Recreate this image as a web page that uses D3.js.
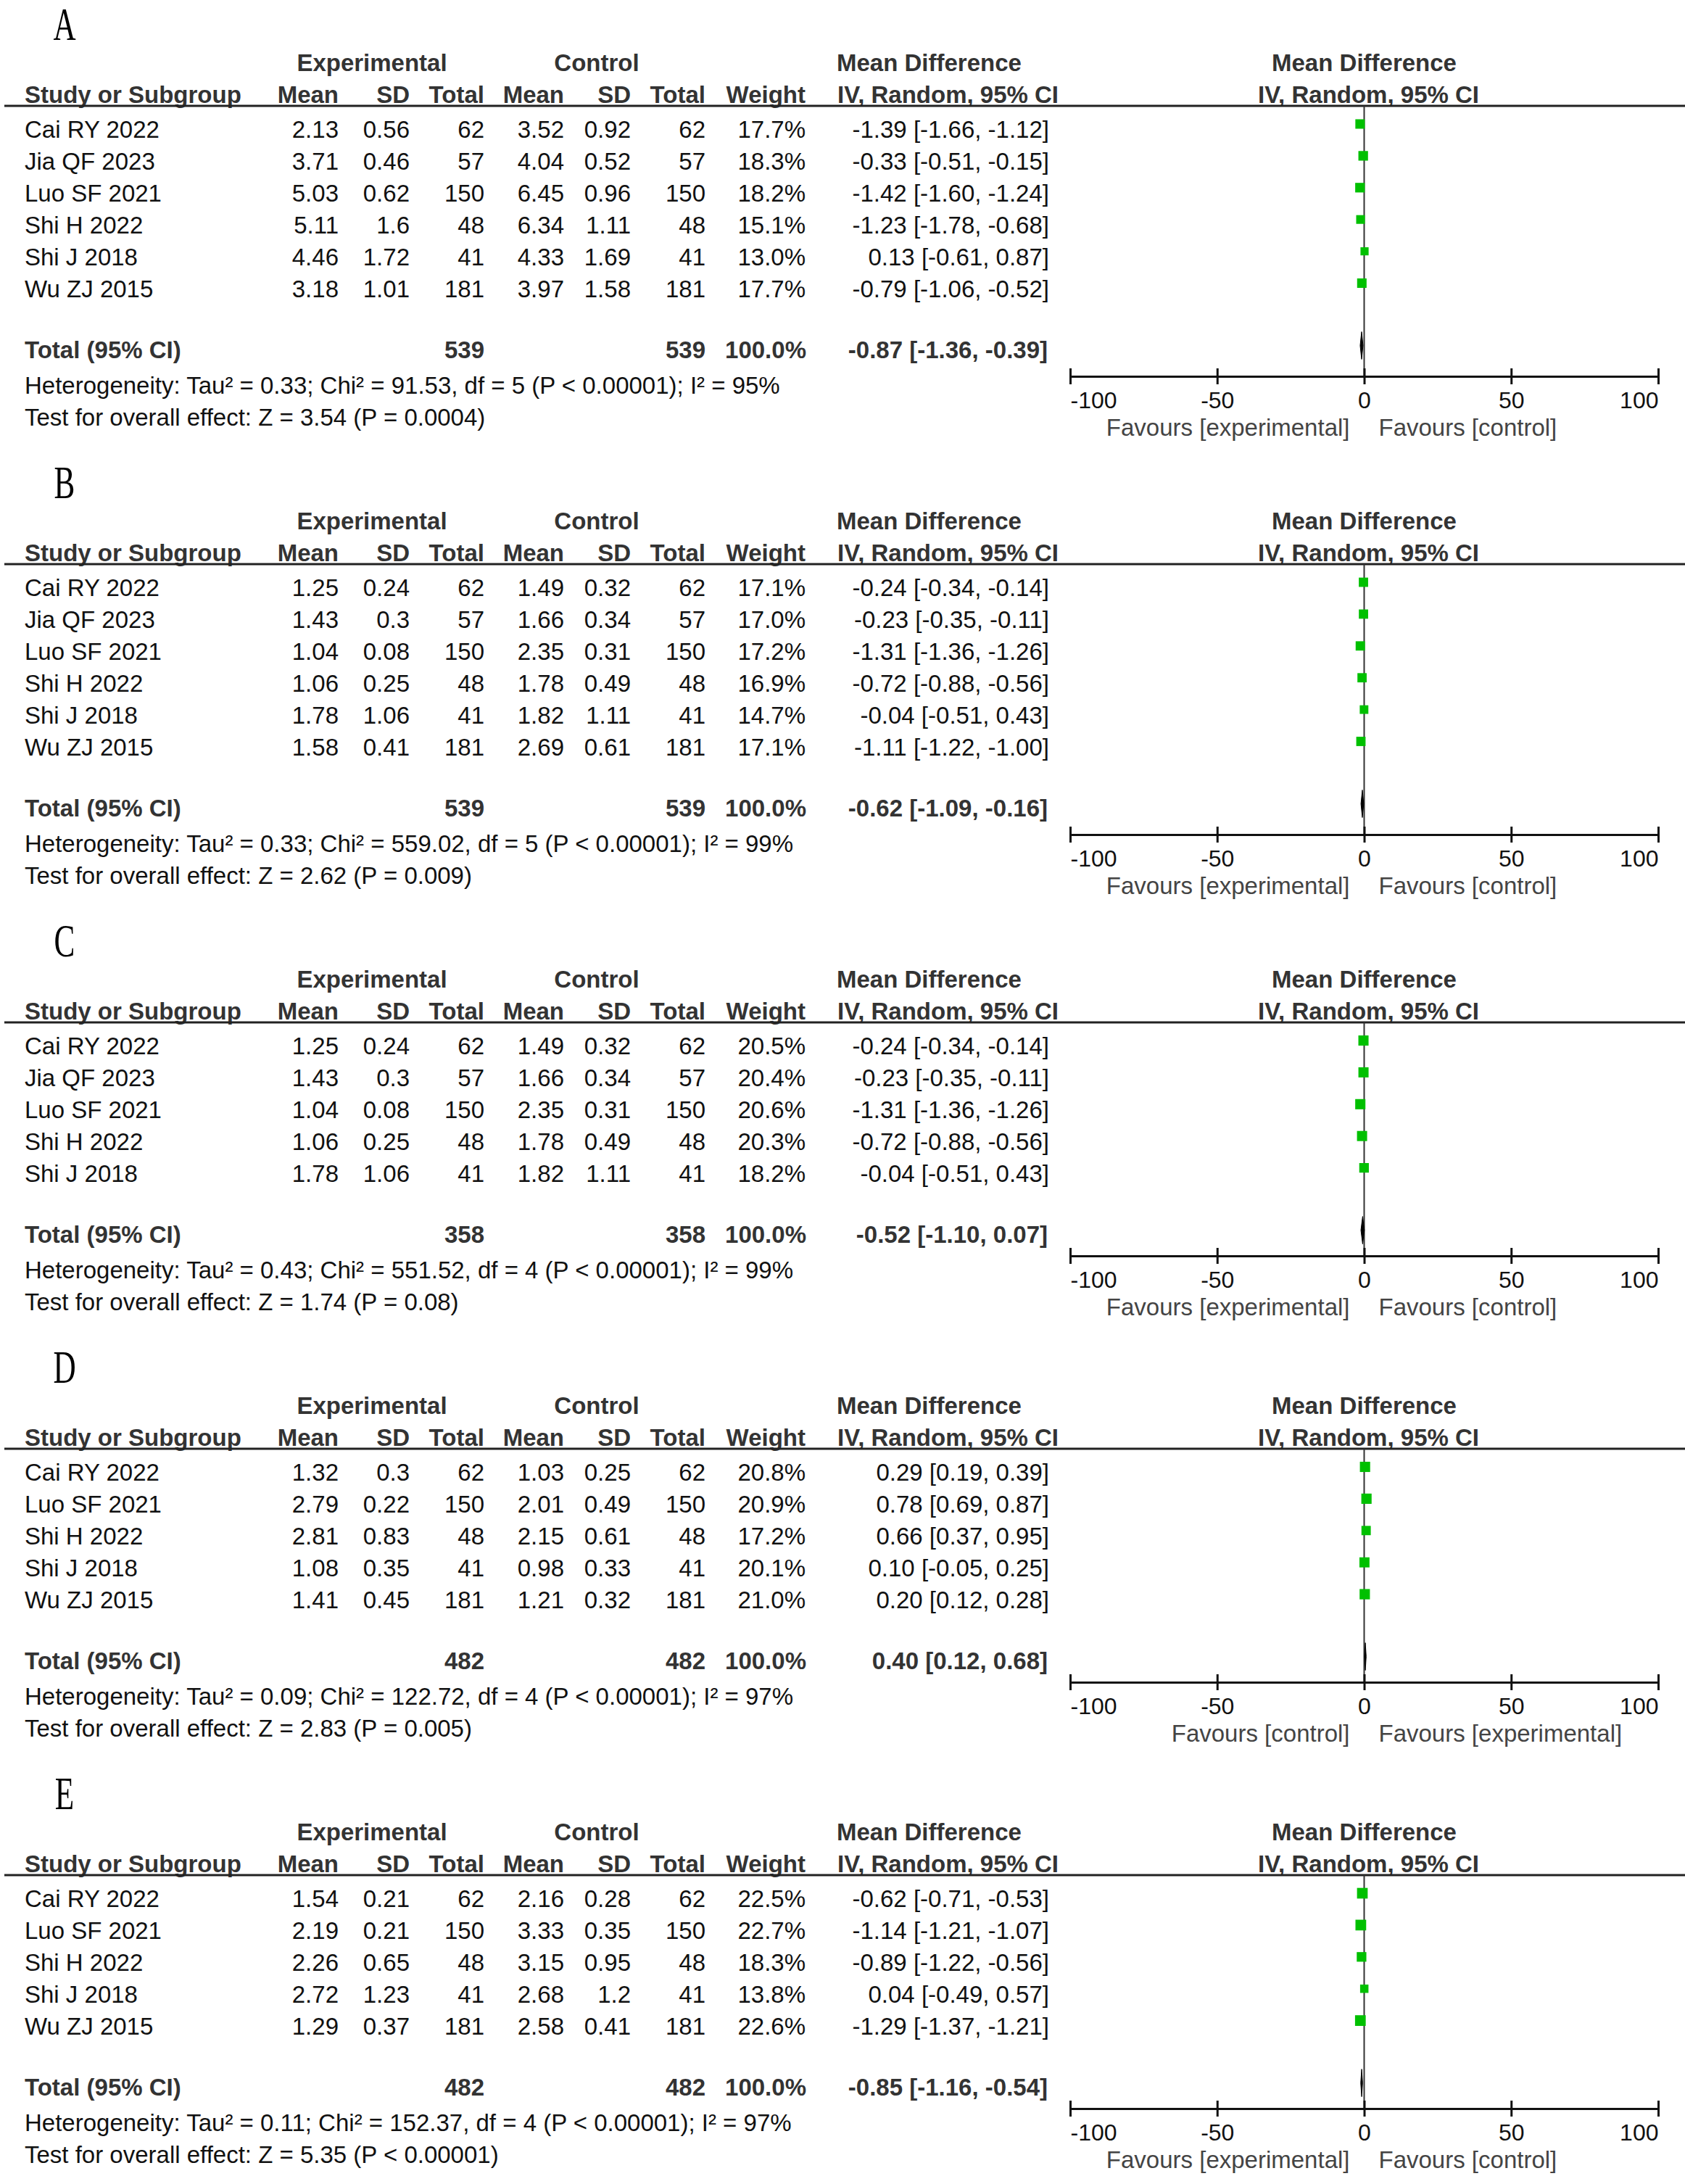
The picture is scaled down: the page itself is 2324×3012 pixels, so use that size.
<!DOCTYPE html>
<html>
<head>
<meta charset="utf-8">
<script src="https://cdn.jsdelivr.net/npm/d3@7"></script>
<style>
  html, body { margin: 0; padding: 0; background: #ffffff; }
  svg { display: block; }
  text { font-family: "Liberation Sans", Arial, sans-serif; }
</style>
</head>
<body>
<div id="chart"></div>
<script>
// ---------------- DATA ----------------
const panelLetters = ["A", "B", "C", "D", "E"];
const colHeaders = ["Mean", "SD", "Total", "Mean", "SD", "Total", "Weight"];
const axisTicks = [-100, -50, 0, 50, 100];

// row: [study, expMean, expSD, expTotal, ctrlMean, ctrlSD, ctrlTotal, weight(%), MD, lower, upper]
const rowsA = [
  ["Cai RY 2022", "2.13", "0.56", 62, "3.52", "0.92", 62, 17.7, -1.39, -1.66, -1.12],
  ["Jia QF 2023", "3.71", "0.46", 57, "4.04", "0.52", 57, 18.3, -0.33, -0.51, -0.15],
  ["Luo SF 2021", "5.03", "0.62", 150, "6.45", "0.96", 150, 18.2, -1.42, -1.60, -1.24],
  ["Shi H 2022", "5.11", "1.6", 48, "6.34", "1.11", 48, 15.1, -1.23, -1.78, -0.68],
  ["Shi J 2018", "4.46", "1.72", 41, "4.33", "1.69", 41, 13.0, 0.13, -0.61, 0.87],
  ["Wu ZJ 2015", "3.18", "1.01", 181, "3.97", "1.58", 181, 17.7, -0.79, -1.06, -0.52]
];
const totalA = [539, 539, -0.87, -1.36, -0.39];
const hetA = "Heterogeneity: Tau² = 0.33; Chi² = 91.53, df = 5 (P < 0.00001); I² = 95%";
const testA = "Test for overall effect: Z = 3.54 (P = 0.0004)";
const favA = ["Favours [experimental]", "Favours [control]"];

const rowsB = [
  ["Cai RY 2022", "1.25", "0.24", 62, "1.49", "0.32", 62, 17.1, -0.24, -0.34, -0.14],
  ["Jia QF 2023", "1.43", "0.3", 57, "1.66", "0.34", 57, 17.0, -0.23, -0.35, -0.11],
  ["Luo SF 2021", "1.04", "0.08", 150, "2.35", "0.31", 150, 17.2, -1.31, -1.36, -1.26],
  ["Shi H 2022", "1.06", "0.25", 48, "1.78", "0.49", 48, 16.9, -0.72, -0.88, -0.56],
  ["Shi J 2018", "1.78", "1.06", 41, "1.82", "1.11", 41, 14.7, -0.04, -0.51, 0.43],
  ["Wu ZJ 2015", "1.58", "0.41", 181, "2.69", "0.61", 181, 17.1, -1.11, -1.22, -1.00]
];
const totalB = [539, 539, -0.62, -1.09, -0.16];
const hetB = "Heterogeneity: Tau² = 0.33; Chi² = 559.02, df = 5 (P < 0.00001); I² = 99%";
const testB = "Test for overall effect: Z = 2.62 (P = 0.009)";
const favB = ["Favours [experimental]", "Favours [control]"];

const rowsC = [
  ["Cai RY 2022", "1.25", "0.24", 62, "1.49", "0.32", 62, 20.5, -0.24, -0.34, -0.14],
  ["Jia QF 2023", "1.43", "0.3", 57, "1.66", "0.34", 57, 20.4, -0.23, -0.35, -0.11],
  ["Luo SF 2021", "1.04", "0.08", 150, "2.35", "0.31", 150, 20.6, -1.31, -1.36, -1.26],
  ["Shi H 2022", "1.06", "0.25", 48, "1.78", "0.49", 48, 20.3, -0.72, -0.88, -0.56],
  ["Shi J 2018", "1.78", "1.06", 41, "1.82", "1.11", 41, 18.2, -0.04, -0.51, 0.43]
];
const totalC = [358, 358, -0.52, -1.10, 0.07];
const hetC = "Heterogeneity: Tau² = 0.43; Chi² = 551.52, df = 4 (P < 0.00001); I² = 99%";
const testC = "Test for overall effect: Z = 1.74 (P = 0.08)";
const favC = ["Favours [experimental]", "Favours [control]"];

const rowsD = [
  ["Cai RY 2022", "1.32", "0.3", 62, "1.03", "0.25", 62, 20.8, 0.29, 0.19, 0.39],
  ["Luo SF 2021", "2.79", "0.22", 150, "2.01", "0.49", 150, 20.9, 0.78, 0.69, 0.87],
  ["Shi H 2022", "2.81", "0.83", 48, "2.15", "0.61", 48, 17.2, 0.66, 0.37, 0.95],
  ["Shi J 2018", "1.08", "0.35", 41, "0.98", "0.33", 41, 20.1, 0.10, -0.05, 0.25],
  ["Wu ZJ 2015", "1.41", "0.45", 181, "1.21", "0.32", 181, 21.0, 0.20, 0.12, 0.28]
];
const totalD = [482, 482, 0.40, 0.12, 0.68];
const hetD = "Heterogeneity: Tau² = 0.09; Chi² = 122.72, df = 4 (P < 0.00001); I² = 97%";
const testD = "Test for overall effect: Z = 2.83 (P = 0.005)";
const favD = ["Favours [control]", "Favours [experimental]"];

const rowsE = [
  ["Cai RY 2022", "1.54", "0.21", 62, "2.16", "0.28", 62, 22.5, -0.62, -0.71, -0.53],
  ["Luo SF 2021", "2.19", "0.21", 150, "3.33", "0.35", 150, 22.7, -1.14, -1.21, -1.07],
  ["Shi H 2022", "2.26", "0.65", 48, "3.15", "0.95", 48, 18.3, -0.89, -1.22, -0.56],
  ["Shi J 2018", "2.72", "1.23", 41, "2.68", "1.2", 41, 13.8, 0.04, -0.49, 0.57],
  ["Wu ZJ 2015", "1.29", "0.37", 181, "2.58", "0.41", 181, 22.6, -1.29, -1.37, -1.21]
];
const totalE = [482, 482, -0.85, -1.16, -0.54];
const hetE = "Heterogeneity: Tau² = 0.11; Chi² = 152.37, df = 4 (P < 0.00001); I² = 97%";
const testE = "Test for overall effect: Z = 5.35 (P < 0.00001)";
const favE = ["Favours [experimental]", "Favours [control]"];

// ---------------- LAYOUT ----------------
const W = 2324, H = 3012;
const FS = 33;
const colRight = [467, 565, 668, 778, 870, 973, 1111];
const ciRight = 1447;
const regular = "#111111", boldCol = "#333333", favCol = "#444444";

const panels = [
  { rows: rowsA, total: totalA, het: hetA, test: testA, fav: favA },
  { rows: rowsB, total: totalB, het: hetB, test: testB, fav: favB },
  { rows: rowsC, total: totalC, het: hetC, test: testC, fav: favC },
  { rows: rowsD, total: totalD, het: hetD, test: testD, fav: favD },
  { rows: rowsE, total: totalE, het: hetE, test: testE, fav: favE }
];

const x = d3.scaleLinear().domain([-100, 100]).range([1476, 2287]);

const svg = d3.select("#chart").append("svg")
  .attr("width", W).attr("height", H)
  .attr("viewBox", `0 0 ${W} ${H}`);
svg.append("rect").attr("width", W).attr("height", H).attr("fill", "#fff");

const fmt2 = v => v.toFixed(2);   // plain hyphen-minus, as in the reference
const ciText = (m, l, u) => `${fmt2(m)} [${fmt2(l)}, ${fmt2(u)}]`;

let offset = 0;
panels.forEach((p, pi) => {
  const n = p.rows.length;
  const g = svg.append("g").attr("transform", `translate(0,${offset})`);
  const rowY = d3.scaleLinear().domain([0, 1]).range([190, 233.9]);
  const totalY = rowY(n - 1) + 84;
  const axisY = 519 - 51 * (6 - n);

  // panel letter
  g.append("text")
    .attr("transform", "translate(89,55) scale(0.72,1.04)")
    .attr("text-anchor", "middle")
    .style("font-family", '"Liberation Serif", "Times New Roman", serif')
    .style("font-size", "60px")
    .attr("fill", "#000")
    .text(panelLetters[pi]);

  // header row 1
  const h1 = g.append("g").style("font-weight", "bold").style("font-size", FS + "px").attr("fill", boldCol);
  h1.append("text").attr("x", 513).attr("y", 98).attr("text-anchor", "middle").text("Experimental");
  h1.append("text").attr("x", 823).attr("y", 98).attr("text-anchor", "middle").text("Control");
  h1.append("text").attr("x", 1154).attr("y", 98).text("Mean Difference");
  h1.append("text").attr("x", x(0)).attr("y", 98).attr("text-anchor", "middle").text("Mean Difference");

  // header row 2
  const h2 = g.append("g").style("font-weight", "bold").style("font-size", FS + "px").attr("fill", boldCol);
  h2.append("text").attr("x", 34).attr("y", 142).text("Study or Subgroup");
  colHeaders.forEach((h, i) => {
    h2.append("text").attr("x", colRight[i]).attr("y", 142).attr("text-anchor", "end").text(h);
  });
  h2.append("text").attr("x", 1155).attr("y", 142).text("IV, Random, 95% CI");
  h2.append("text").attr("x", x(0) + 6).attr("y", 142).attr("text-anchor", "middle").text("IV, Random, 95% CI");

  // header line
  g.append("line").attr("x1", 6).attr("x2", W).attr("y1", 146).attr("y2", 146)
    .attr("stroke", "#222").attr("stroke-width", 3);

  // rows
  const rg = g.append("g").style("font-size", FS + "px").attr("fill", regular);
  p.rows.forEach((r, i) => {
    const y = rowY(i);
    rg.append("text").attr("x", 34).attr("y", y).text(r[0]);
    const cells = [r[1], r[2], r[3], r[4], r[5], r[6], r[7].toFixed(1) + "%"];
    cells.forEach((c, j) => {
      rg.append("text").attr("x", colRight[j]).attr("y", y).attr("text-anchor", "end").text(c);
    });
    rg.append("text").attr("x", ciRight).attr("y", y).attr("text-anchor", "end").text(ciText(r[8], r[9], r[10]));
  });

  // total row
  const tg = g.append("g").style("font-size", FS + "px").style("font-weight", "bold").attr("fill", boldCol);
  tg.append("text").attr("x", 34).attr("y", totalY).text("Total (95% CI)");
  tg.append("text").attr("x", colRight[2]).attr("y", totalY).attr("text-anchor", "end").text(p.total[0]);
  tg.append("text").attr("x", colRight[5]).attr("y", totalY).attr("text-anchor", "end").text(p.total[1]);
  tg.append("text").attr("x", colRight[6] + 1).attr("y", totalY).attr("text-anchor", "end").text("100.0%");
  tg.append("text").attr("x", ciRight - 2).attr("y", totalY).attr("text-anchor", "end").text(ciText(p.total[2], p.total[3], p.total[4]));

  // heterogeneity & test
  rg.append("text").attr("x", 34).attr("y", totalY + 49).text(p.het);
  rg.append("text").attr("x", 34).attr("y", totalY + 93).text(p.test);

  // zero line
  g.append("line").attr("x1", x(0)).attr("x2", x(0)).attr("y1", 146).attr("y2", axisY)
    .attr("stroke", "#333").attr("stroke-width", 2);

  // CI whiskers and squares
  const mg = g.append("g");
  p.rows.forEach((r, i) => {
    const cy = rowY(i) - 19;
    mg.append("line").attr("x1", x(r[9])).attr("x2", x(r[10])).attr("y1", cy).attr("y2", cy)
      .attr("stroke", "#000").attr("stroke-width", 1.5);
    const s = 3.1 * Math.sqrt(r[7]);
    mg.append("rect").attr("x", x(r[8]) - s / 2).attr("y", cy - s / 2)
      .attr("width", s).attr("height", s).attr("fill", "#00c000");
  });

  // diamond
  const dy = totalY - 17;
  const dh = 19;
  const pts = [[x(p.total[3]), dy], [x(p.total[2]), dy - dh], [x(p.total[4]), dy], [x(p.total[2]), dy + dh]];
  mg.append("polygon").attr("points", pts.map(d => d.join(",")).join(" "))
    .attr("fill", "#000").attr("stroke", "#000").attr("stroke-width", 1);

  // axis
  const axis = d3.axisBottom(x).tickValues(axisTicks).tickSizeInner(11).tickSizeOuter(0)
    .tickFormat(d => String(d));
  const ag = g.append("g").attr("transform", `translate(0,${axisY})`).call(axis);
  ag.select(".domain").attr("stroke", "#111").attr("stroke-width", 3);
  ag.selectAll(".tick line").attr("y1", -11).attr("y2", 11).attr("stroke", "#111").attr("stroke-width", 3);
  ag.selectAll(".tick text")
    .attr("y", 44).attr("dy", 0)
    .style("font-family", '"Liberation Sans", Arial, sans-serif')
    .style("font-size", "32px")
    .attr("fill", "#111")
    .attr("text-anchor", d => d === -100 ? "start" : (d === 100 ? "end" : "middle"));

  // favours labels
  const fg = g.append("g").style("font-size", FS + "px").attr("fill", favCol);
  fg.append("text").attr("x", x(0) - 20).attr("y", axisY + 82).attr("text-anchor", "end").text(p.fav[0]);
  fg.append("text").attr("x", x(0) + 20).attr("y", axisY + 82).attr("text-anchor", "start").text(p.fav[1]);

  offset += 368 + 44 * n;
});
</script>
</body>
</html>
